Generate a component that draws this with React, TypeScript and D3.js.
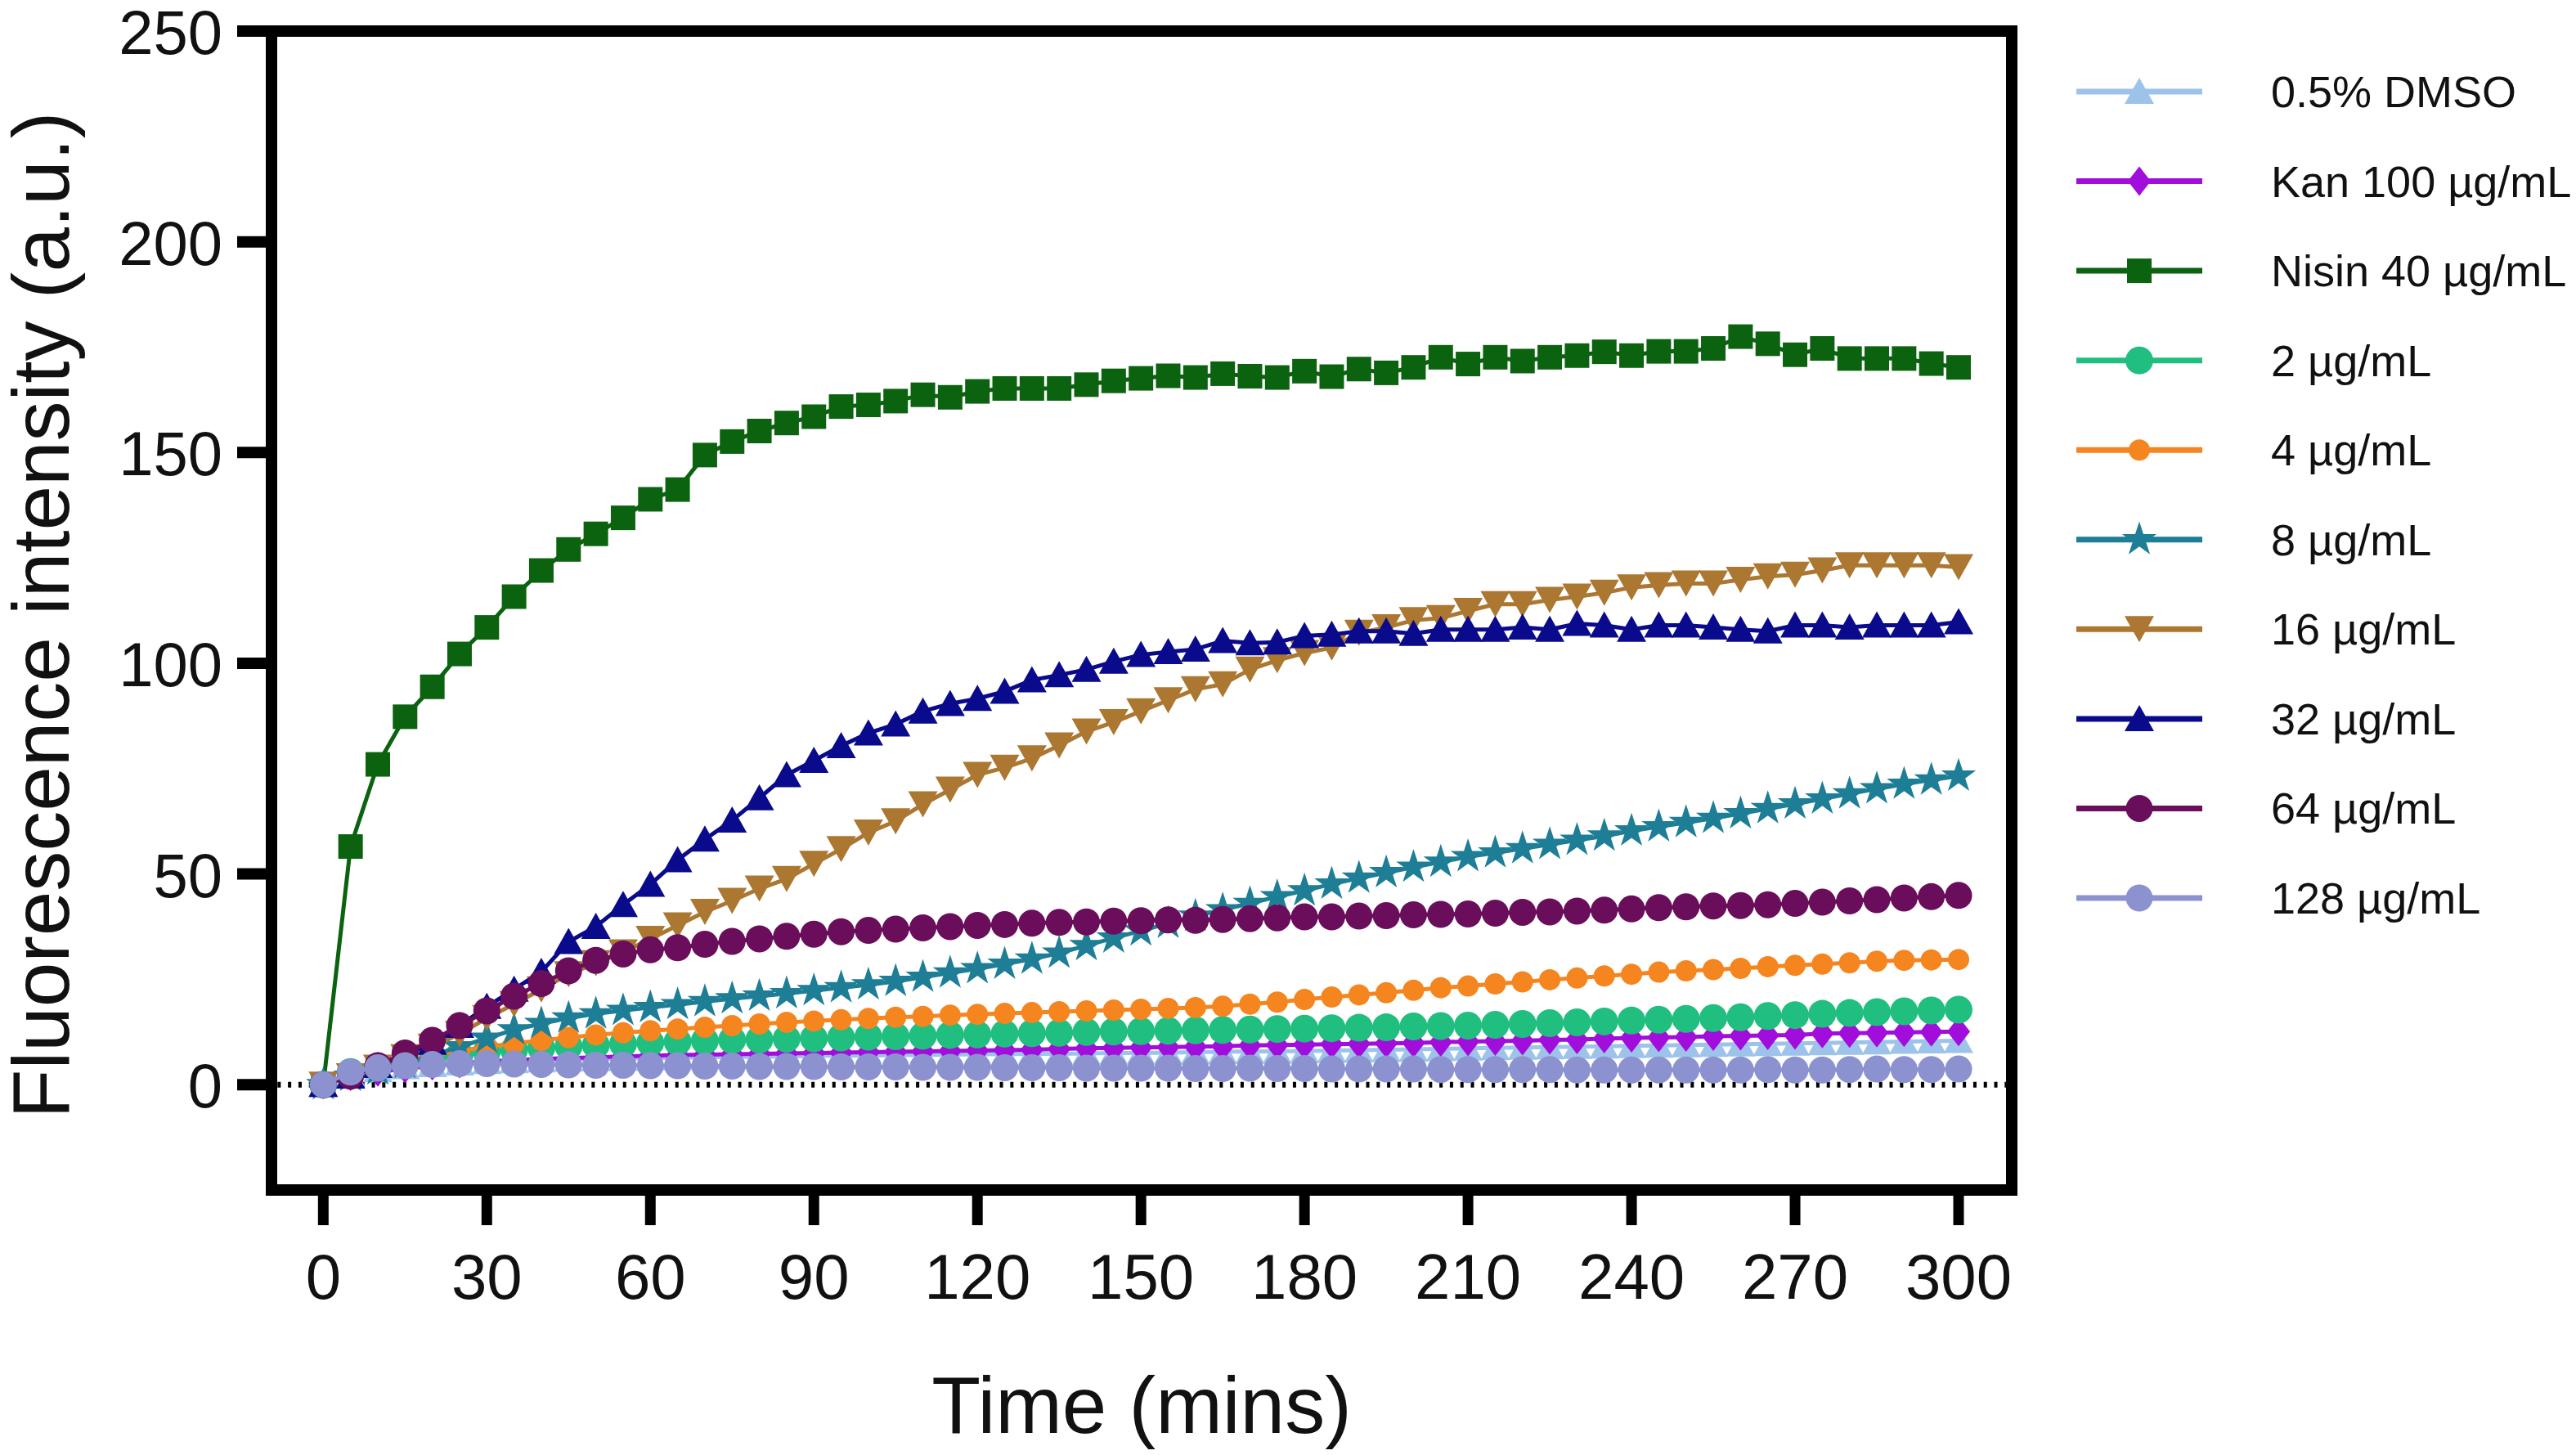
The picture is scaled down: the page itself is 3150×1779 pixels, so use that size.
import React from 'react';
import * as d3 from 'd3';

// sampling times (mins)
const times = [
  0, 5, 10, 15, 20, 25, 30, 35, 40, 45,
  50, 55, 60, 65, 70, 75, 80, 85, 90, 95,
  100, 105, 110, 115, 120, 125, 130, 135, 140, 145,
  150, 155, 160, 165, 170, 175, 180, 185, 190, 195,
  200, 205, 210, 215, 220, 225, 230, 235, 240, 245,
  250, 255, 260, 265, 270, 275, 280, 285, 290, 295,
  300,
];

const dmso = [
  0, 2.5, 3.5, 4.2, 4.7, 5.1, 5.4, 5.6, 5.8, 6,
  6.1, 6.2, 6.3, 6.4, 6.5, 6.6, 6.6, 6.7, 6.8, 6.9,
  6.9, 7, 7, 7.1, 7.2, 7.2, 7.3, 7.3, 7.4, 7.5,
  7.5, 7.6, 7.7, 7.8, 7.9, 7.9, 8, 8.1, 8.2, 8.3,
  8.4, 8.5, 8.6, 8.7, 8.8, 8.9, 9, 9.1, 9.2, 9.3,
  9.4, 9.5, 9.6, 9.7, 9.8, 9.9, 10, 10.1, 10.2, 10.3,
  10.4,
];

const kan = [
  0, 2, 3, 3.8, 4.5, 5, 5.5, 5.8, 6.1, 6.3,
  6.5, 6.7, 6.9, 7, 7.1, 7.2, 7.3, 7.4, 7.5, 7.6,
  7.7, 7.8, 7.9, 8, 8.1, 8.2, 8.3, 8.5, 8.6, 8.7,
  8.8, 8.9, 9, 9.1, 9.3, 9.4, 9.5, 9.6, 9.7, 9.8,
  9.9, 10.1, 10.2, 10.3, 10.4, 10.6, 10.7, 10.9, 11.1, 11.2,
  11.3, 11.5, 11.6, 11.7, 11.8, 12.1, 12.2, 12.3, 12.4, 12.5,
  12.6,
];

const nisin = [
  0, 56.5, 76, 87.3, 94.4, 102.2, 108.5, 115.8, 122, 127,
  130.7, 134.5, 138.9, 141.2, 149.4, 152.6, 155.1, 157, 158.5, 160.9,
  161.3, 162.2, 163.7, 163.1, 164.5, 165.2, 165.2, 165.2, 166.1, 167,
  167.6, 168.2, 167.8, 168.7, 168.1, 167.8, 169.3, 168, 169.8, 168.9,
  170.2, 172.6, 171, 172.6, 171.7, 172.6, 173, 173.9, 173, 174,
  174, 174.7, 177.5, 175.8, 173.2, 174.7, 172.3, 172.3, 172.3, 171.1,
  170.2,
];

const c2 = [
  0, 3, 4, 5, 6, 7, 7.8, 8.3, 8.7, 9.1,
  9.4, 9.7, 10, 10.2, 10.4, 10.6, 10.7, 10.9, 11, 11.2,
  11.4, 11.5, 11.6, 11.8, 11.9, 12.1, 12.2, 12.3, 12.5, 12.6,
  12.7, 12.8, 12.9, 13, 13.1, 13.2, 13.3, 13.4, 13.5, 13.6,
  13.8, 13.9, 14, 14.2, 14.4, 14.6, 14.8, 15, 15.2, 15.4,
  15.6, 15.8, 16, 16.3, 16.5, 16.8, 17, 17.2, 17.4, 17.6,
  17.8,
];

const c4 = [
  0, 2.5, 4, 5.5, 7, 8, 9, 9.8, 10.5, 11.2,
  11.8, 12.3, 12.8, 13.2, 13.6, 14, 14.4, 14.8, 15.1, 15.4,
  15.7, 16, 16.2, 16.5, 16.7, 16.9, 17.1, 17.3, 17.5, 17.7,
  17.9, 18.1, 18.3, 18.6, 19.1, 19.6, 20.2, 20.8, 21.3, 21.8,
  22.4, 23, 23.4, 23.9, 24.4, 24.9, 25.3, 25.8, 26.2, 26.7,
  27, 27.3, 27.6, 28, 28.3, 28.6, 28.9, 29.3, 29.5, 29.6,
  29.7,
];

const c8 = [
  0, 2, 3.5, 5, 7, 9, 11, 13, 14.5, 15.8,
  16.8, 17.6, 18.3, 19, 19.7, 20.4, 21, 21.6, 22.3, 23,
  23.7, 24.5, 25.5, 26.5, 27.5, 28.6, 29.8, 31.2, 33, 34.8,
  36.5, 38.3, 40, 41.5, 43, 44.6, 46, 47.6, 49, 50.3,
  51.6, 52.8, 54.1, 55, 56, 57, 58, 59, 60.2, 61.2,
  62.2, 63.2, 64.3, 65.5, 66.6, 67.8, 69, 70.2, 71.3, 72.3,
  73.2,
];

const c16 = [
  0, 2, 4, 6.5, 9, 12, 15.8, 19.1, 22.6, 26.2,
  28.8, 31.4, 34.6, 37.8, 41, 43.6, 46.5, 48.8, 52.4, 55.9,
  59.8, 62.5, 66.5, 70, 73.5, 75.2, 77.4, 80.5, 83.8, 86,
  88.6, 91.2, 93.8, 95, 98.5, 100.7, 102.4, 103.7, 107.2, 108.5,
  110.2, 110.7, 112.4, 114, 114, 115, 115.8, 116.7, 118, 118.5,
  118.9, 118.9, 119.8, 120.6, 121, 122, 123.2, 123.2, 123.2, 123.2,
  122.8,
];

const c32 = [
  0, 2, 4.5, 7, 10, 14, 18.5, 22.6, 26.8, 33.9,
  37.5, 42.7, 47.5, 53.3, 58.2, 62.7, 68, 73.5, 76.9, 80.4,
  83.4, 85.5, 88.6, 90.4, 91.6, 93.3, 96, 97.2, 98.5, 100.4,
  102, 102.7, 103.3, 105.3, 104.8, 105, 106.5, 106.8, 107.6, 107.6,
  107, 108, 108, 108, 108.5, 108, 109.4, 109, 108, 109,
  109, 108.5, 108, 107.6, 109, 109, 108.5, 109, 109, 109,
  109.8,
];

const c64 = [
  0, 2, 4.5, 7.5, 10.5, 14, 17.5, 21, 24, 27,
  29.5, 31, 32, 32.5, 33.3, 34, 34.6, 35.2, 35.7, 36.3,
  36.6, 36.9, 37.2, 37.5, 37.8, 38, 38.3, 38.5, 38.6, 38.8,
  38.9, 39.1, 39, 39.2, 39.4, 39.6, 39.8, 39.8, 40, 40.1,
  40.3, 40.4, 40.5, 40.7, 40.9, 41, 41.2, 41.4, 41.7, 42,
  42.2, 42.4, 42.5, 42.7, 43, 43.3, 43.6, 43.9, 44.3, 44.6,
  44.9,
];

const c128 = [
  0, 3, 4, 4.5, 4.8, 5, 5, 4.9, 4.8, 4.7,
  4.6, 4.6, 4.5, 4.5, 4.4, 4.4, 4.3, 4.3, 4.3, 4.2,
  4.2, 4.2, 4.1, 4.1, 4.1, 4, 4, 4, 3.9, 3.9,
  3.9, 3.9, 3.8, 3.8, 3.9, 3.8, 3.8, 3.7, 3.7, 3.7,
  3.7, 3.6, 3.6, 3.6, 3.6, 3.6, 3.5, 3.5, 3.5, 3.5,
  3.5, 3.5, 3.5, 3.6, 3.5, 3.5, 3.6, 3.7, 3.6, 3.6,
  3.7,
];

const seriesNames = [
  '0.5% DMSO', 'Kan 100 µg/mL', 'Nisin 40 µg/mL', '2 µg/mL', '4 µg/mL',
  '8 µg/mL', '16 µg/mL', '32 µg/mL', '64 µg/mL', '128 µg/mL',
];
const seriesValues = [dmso, kan, nisin, c2, c4, c8, c16, c32, c64, c128];
const seriesColors = [
  '#9DC3EA', '#A10DDB', '#0B620F', '#20BF80', '#F5851F',
  '#1D7E96', '#AB7731', '#0A0A8C', '#6A0D5A', '#8C92CF',
];
const seriesShapes = [
  'triUp', 'diamond', 'square', 'circleL', 'circleS',
  'star', 'triDown', 'triUp', 'circleM', 'circleM',
];

const xTicks = [0, 30, 60, 90, 120, 150, 180, 210, 240, 270, 300];
const yTicks = [0, 50, 100, 150, 200, 250];

const W = 3150;
const H = 1779;
const font = '"Liberation Sans", Arial, Helvetica, sans-serif';

const x = d3.scaleLinear().domain([-9.5, 309.75]).range([332, 2460]);
const y = d3.scaleLinear().domain([-25, 250]).range([1455, 38]);

function markerPath(shape: string): string {
  switch (shape) {
    case 'triUp':
      return 'M0,-17L18,15L-18,15Z';
    case 'triDown':
      return 'M0,16L18,-16L-18,-16Z';
    case 'diamond':
      return 'M0,-18L14,0L0,18L-14,0Z';
    case 'square':
      return 'M-15,-15H15V15H-15Z';
    case 'star':
      return d3.symbol().type(d3.symbolStar).size(560)() as string;
    case 'circleL':
      return d3.symbol().type(d3.symbolCircle).size(Math.PI * 17 * 17)() as string;
    case 'circleS':
      return d3.symbol().type(d3.symbolCircle).size(Math.PI * 13 * 13)() as string;
    default:
      return d3.symbol().type(d3.symbolCircle).size(Math.PI * 16.5 * 16.5)() as string;
  }
}

const App: React.FC = () => {
  const line = d3.line<number>()
    .x((_, i) => x(times[i]))
    .y(d => y(d));

  const legendRow = d3.scaleLinear().domain([0, 9]).range([112, 1098]);

  return (
    <div style={{ position: 'absolute', left: 0, top: 0, width: W, height: H, background: '#fff' }}>
      <svg width={W} height={H} style={{ display: 'block' }} fontFamily={font}>
        <rect width={W} height={H} fill="#fff" />

        {/* zero reference */}
        <line
          x1={x(-8.4)} x2={x(308.7)} y1={y(0)} y2={y(0)}
          stroke="#000" strokeWidth={7} strokeDasharray="4 8.8"
        />

        {/* series */}
        {seriesValues.map((vals, s) => (
          <g key={seriesNames[s]}>
            <path d={line(vals) as string} fill="none" stroke={seriesColors[s]} strokeWidth={5} />
            {vals.map((v, i) => (
              <path
                key={i}
                d={markerPath(seriesShapes[s])}
                transform={`translate(${x(times[i])},${y(v)})`}
                fill={seriesColors[s]}
              />
            ))}
          </g>
        ))}

        {/* frame */}
        <rect
          x={x(-9.5)} y={y(250)} width={x(309.75) - x(-9.5)} height={y(-25) - y(250)}
          fill="none" stroke="#000" strokeWidth={14}
        />

        {/* y axis */}
        {yTicks.map(t => (
          <g key={t}>
            <line x1={290} x2={x(-9.5)} y1={y(t)} y2={y(t)} stroke="#000" strokeWidth={14} />
            <text x={272} y={y(t) + 28} textAnchor="end" fontSize={76} fill="#111">{t}</text>
          </g>
        ))}

        {/* x axis */}
        {xTicks.map(t => (
          <g key={t}>
            <line x1={x(t)} x2={x(t)} y1={y(-25)} y2={1498} stroke="#000" strokeWidth={13} />
            <text x={x(t)} y={1588} textAnchor="middle" fontSize={78} fill="#111">{t}</text>
          </g>
        ))}

        <text
          transform={`translate(84,752) rotate(-90)`}
          textAnchor="middle" fontSize={98} fill="#111"
        >
          Fluorescence intensity (a.u.)
        </text>
        <text x={(x(-9.5) + x(309.75)) / 2} y={1752} textAnchor="middle" fontSize={98} fill="#111">
          Time (mins)
        </text>

        {/* legend */}
        {seriesNames.map((name, s) => {
          const ry = legendRow(s);
          return (
            <g key={name}>
              <line x1={2539} x2={2693} y1={ry} y2={ry} stroke={seriesColors[s]} strokeWidth={7} />
              <path d={markerPath(seriesShapes[s])} transform={`translate(2616,${ry})`} fill={seriesColors[s]} />
              <text x={2777} y={ry + 19} fontSize={54} fill="#111">{name}</text>
            </g>
          );
        })}
      </svg>
    </div>
  );
};

export default App;
